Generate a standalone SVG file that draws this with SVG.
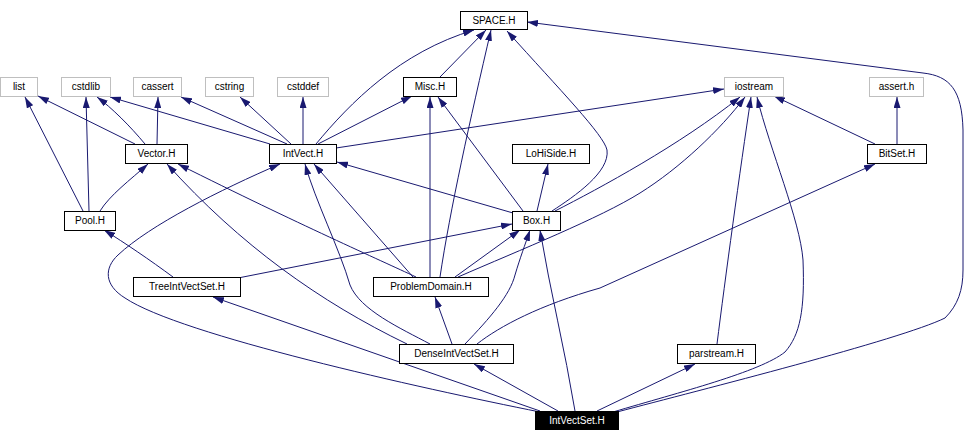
<svg xmlns="http://www.w3.org/2000/svg" width="978" height="442" viewBox="0 0 978 442">
<style>
.n rect{fill:#fff;stroke:#000;stroke-width:1}
.g rect{fill:#fff;stroke:#bfbfbf;stroke-width:1}
.r rect{fill:#000;stroke:#000;stroke-width:1}
text{font-family:"Liberation Sans",Arial,sans-serif;font-size:10px;text-anchor:middle;fill:#000}
.r text{fill:#fff}
#edges path{fill:none;stroke:#191970;stroke-width:1;marker-end:url(#a)}
</style>
<defs>
<marker id="a" markerWidth="11" markerHeight="7" refX="11" refY="3.5" orient="auto" markerUnits="userSpaceOnUse"><path d="M0,0 L11,3.5 L0,7 z" fill="#191970"/></marker>
</defs>
<rect width="978" height="442" fill="#fff"/>
<g id="edges">
<path d="M135,144 L38,96"/>
<path d="M83,211 L25,97"/>
<path d="M89,211 L86,97"/>
<path d="M145,144 C130,126 112,108 97,97"/>
<path d="M270,144 L110,97"/>
<path d="M157,144 L158,97"/>
<path d="M287,144 L181,97"/>
<path d="M291,144 L240,97"/>
<path d="M303,144 L303,97"/>
<path d="M318,144 L412,96"/>
<path d="M316,144 C350,103 400,52 474,30"/>
<path d="M336,148 L724,89"/>
<path d="M440,77 L486,30"/>
<path d="M440,277 C450,210 470,120 491,30"/>
<path d="M430,277 L430,97"/>
<path d="M523,211 L438,97"/>
<path d="M552,211 C575,196 610,172 607,150 C604,135 560,90 507,31"/>
<path d="M537,211 L548,164"/>
<path d="M555,211 C600,188 680,145 740,97"/>
<path d="M458,277 C520,250 600,218 640,193 C680,168 720,130 745,97"/>
<path d="M717,344 C725,280 740,170 751,97"/>
<path d="M613,412 C680,392 760,372 785,352 C800,335 805,310 803,260 C800,220 770,150 757,97"/>
<path d="M617,412 C700,390 900,340 945,318 C958,305 963,290 963,270 L963,130 C962,90 950,76 923,73 L527,22"/>
<path d="M540,412 C420,388 180,335 125,298 C104,285 104,268 118,255 C150,225 220,190 280,164"/>
<path d="M540,411 L213,297"/>
<path d="M558,411 L474,364"/>
<path d="M575,411 C565,350 550,290 540,230"/>
<path d="M597,411 L695,364"/>
<path d="M173,277 C150,260 125,243 104,230"/>
<path d="M238,278 L512,224"/>
<path d="M100,211 C110,195 130,180 148,164"/>
<path d="M407,344 C320,302 240,245 167,164"/>
<path d="M416,277 C380,260 300,225 178,164"/>
<path d="M413,277 L314,164"/>
<path d="M430,344 C400,328 360,310 350,285 C340,250 315,200 305,164"/>
<path d="M455,277 L520,230"/>
<path d="M465,344 C490,318 510,295 515,275 C520,258 525,245 530,230"/>
<path d="M452,344 L435,297"/>
<path d="M477,344 C500,326 540,305 600,288 L875,164"/>
<path d="M875,144 L774,96"/>
<path d="M897,144 L897,97"/>
<path d="M513,213 L337,162"/>
</g>
<g id="space" class="n"><rect x="460.5" y="11.5" width="67" height="18"/><text x="494" y="24">SPACE.H</text></g>
<g id="list" class="g"><rect x="0.5" y="77.5" width="37" height="19"/><text x="19" y="90">list</text></g>
<g id="cstdlib" class="g"><rect x="61.5" y="77.5" width="49" height="19"/><text x="86" y="90">cstdlib</text></g>
<g id="cassert" class="g"><rect x="133.5" y="77.5" width="48" height="19"/><text x="157.5" y="90">cassert</text></g>
<g id="cstring" class="g"><rect x="205.5" y="77.5" width="48" height="19"/><text x="229.5" y="90">cstring</text></g>
<g id="cstddef" class="g"><rect x="277.5" y="77.5" width="51" height="19"/><text x="303" y="90">cstddef</text></g>
<g id="misc" class="n"><rect x="403.5" y="77.5" width="53" height="19"/><text x="430" y="90">Misc.H</text></g>
<g id="iostream" class="g"><rect x="724.5" y="77.5" width="59" height="19"/><text x="754" y="90">iostream</text></g>
<g id="asserth" class="g"><rect x="869.5" y="77.5" width="54" height="19"/><text x="896.5" y="90">assert.h</text></g>
<g id="vector" class="n"><rect x="125.5" y="144.5" width="62" height="19"/><text x="156.5" y="157">Vector.H</text></g>
<g id="intvect" class="n"><rect x="269.5" y="144.5" width="67" height="19"/><text x="303" y="157">IntVect.H</text></g>
<g id="lohiside" class="n"><rect x="512.5" y="144.5" width="77" height="19"/><text x="551" y="157">LoHiSide.H</text></g>
<g id="bitset" class="n"><rect x="867.5" y="144.5" width="59" height="19"/><text x="897" y="157">BitSet.H</text></g>
<g id="pool" class="n"><rect x="64.5" y="211.5" width="51" height="19"/><text x="90" y="224">Pool.H</text></g>
<g id="box" class="n"><rect x="512.5" y="211.5" width="48" height="19"/><text x="536.5" y="224">Box.H</text></g>
<g id="treeivs" class="n"><rect x="133.5" y="277.5" width="107" height="19"/><text x="187" y="290">TreeIntVectSet.H</text></g>
<g id="problemdomain" class="n"><rect x="373.5" y="277.5" width="115" height="19"/><text x="431" y="290">ProblemDomain.H</text></g>
<g id="denseivs" class="n"><rect x="399.5" y="344.5" width="114" height="19"/><text x="456.5" y="357">DenseIntVectSet.H</text></g>
<g id="parstream" class="n"><rect x="677.5" y="344.5" width="78" height="19"/><text x="716.5" y="357">parstream.H</text></g>
<g id="intvectset" class="r"><rect x="535.5" y="411.5" width="83" height="18"/><text x="577" y="424">IntVectSet.H</text></g>
</svg>
